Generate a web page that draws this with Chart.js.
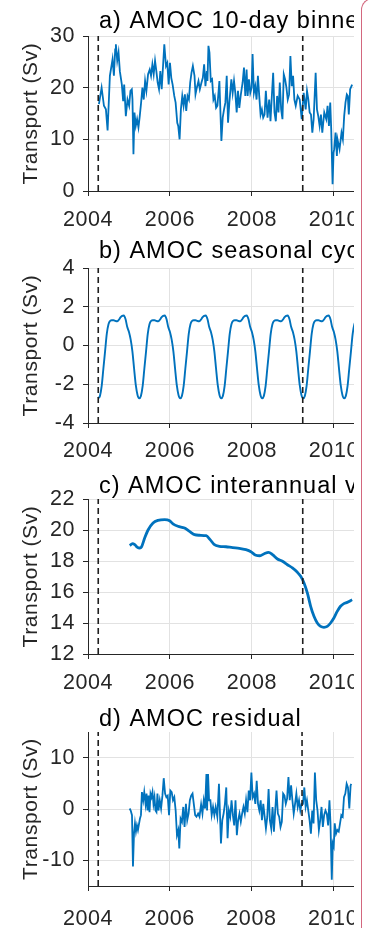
<!DOCTYPE html>
<html>
<head>
<meta charset="utf-8">
<script src="https://cdn.jsdelivr.net/npm/chart.js@4.4.1/dist/chart.umd.min.js"></script>
<style>
html,body{margin:0;padding:0;background:#fff;}
body{width:372px;height:928px;position:relative;overflow:hidden;}
canvas{position:absolute;left:0;}
#cover{position:absolute;left:354px;top:0;width:18px;height:928px;background:#fff;}
#edge{position:absolute;left:361px;top:-2px;width:40px;height:940px;border-left:1.5px solid #d3677e;border-top:1.5px solid #d3677e;border-top-left-radius:12px;box-sizing:border-box;}
</style>
</head>
<body>
<canvas id="cA" width="372" height="232" style="top:0px"></canvas>
<canvas id="cB" width="372" height="232" style="top:232px"></canvas>
<canvas id="cC" width="372" height="232" style="top:463px"></canvas>
<canvas id="cD" width="372" height="232" style="top:696px"></canvas>
<div id="cover"></div>
<div id="edge"></div>
<script>
// ---------- data ----------
const xTicks = [2004, 2006, 2008, 2010];
const eventYears = [2004.25, 2009.24];

const titleA = 'a) AMOC 10-day binned';
const titleB = 'b) AMOC seasonal cycle';
const titleC = 'c) AMOC interannual variability';
const titleD = 'd) AMOC residual';

const yTicksA = [0, 10, 20, 30];
const yTicksB = [-4, -2, 0, 2, 4];
const yTicksC = [12, 14, 16, 18, 20, 22];
const yTicksD = [-10, 0, 10];

// a) 10-day binned transport (Sv)
const yearsA = [2004.267,2004.332,2004.389,2004.437,2004.478,2004.534,2004.599,2004.632,2004.664,2004.680,2004.713,2004.745,2004.777,2004.826,2004.858,2004.883,2004.923,2004.964,2005.004,2005.036,2005.069,2005.085,2005.109,2005.134,2005.166,2005.198,2005.231,2005.263,2005.296,2005.328,2005.360,2005.393,2005.425,2005.466,2005.506,2005.538,2005.571,2005.603,2005.636,2005.668,2005.700,2005.733,2005.765,2005.798,2005.862,2005.903,2005.935,2005.968,2006.000,2006.032,2006.065,2006.105,2006.138,2006.178,2006.202,2006.235,2006.267,2006.300,2006.332,2006.364,2006.397,2006.429,2006.462,2006.494,2006.526,2006.559,2006.599,2006.623,2006.656,2006.696,2006.729,2006.769,2006.802,2006.834,2006.866,2006.899,2006.915,2006.939,2006.964,2006.996,2007.028,2007.061,2007.093,2007.126,2007.158,2007.206,2007.255,2007.287,2007.320,2007.352,2007.385,2007.417,2007.449,2007.498,2007.530,2007.563,2007.595,2007.628,2007.660,2007.692,2007.725,2007.773,2007.806,2007.838,2007.870,2007.895,2007.927,2007.960,2007.992,2008.016,2008.049,2008.081,2008.113,2008.146,2008.178,2008.211,2008.243,2008.275,2008.308,2008.340,2008.381,2008.421,2008.453,2008.486,2008.518,2008.551,2008.583,2008.615,2008.648,2008.680,2008.713,2008.745,2008.777,2008.810,2008.842,2008.874,2008.907,2008.939,2008.972,2009.004,2009.036,2009.069,2009.117,2009.166,2009.215,2009.263,2009.312,2009.344,2009.377,2009.409,2009.441,2009.474,2009.506,2009.555,2009.587,2009.619,2009.652,2009.684,2009.717,2009.765,2009.814,2009.846,2009.879,2009.911,2009.935,2009.968,2009.992,2010.008,2010.040,2010.073,2010.089,2010.138,2010.186,2010.219,2010.251,2010.283,2010.316,2010.340,2010.364,2010.397,2010.445];
const transportA = [16.8,20.0,16.5,15.8,11.7,22.3,25.5,22.3,27.4,28.4,25.2,26.8,23.2,20.6,17.4,20.6,14.5,17.7,16.5,19.4,19.7,17.7,7.1,15.2,12.6,13.9,12.3,14.5,17.1,20.0,17.7,21.3,19.4,22.6,23.5,22.3,24.5,22.6,25.2,23.2,21.0,19.7,23.2,19.7,28.4,24.2,24.8,20.6,24.8,21.9,20.6,18.4,17.1,13.2,12.6,10.0,15.8,18.4,16.5,18.7,15.5,18.4,17.7,21.0,22.9,24.2,22.3,18.7,20.0,21.3,19.7,21.0,21.9,24.5,20.3,23.2,21.3,28.1,26.8,21.3,21.6,17.7,18.4,16.1,16.5,21.3,9.7,14.2,15.8,17.1,22.3,13.2,17.1,21.6,19.0,21.3,19.0,15.2,19.4,16.1,18.4,21.0,23.9,18.4,23.5,18.4,21.6,19.0,20.0,26.5,19.0,20.3,17.7,22.3,18.4,14.8,15.8,14.2,14.8,19.4,14.2,17.7,13.5,18.4,22.9,15.2,13.5,18.4,15.2,21.0,15.8,13.9,22.6,21.6,20.0,17.7,18.7,26.1,20.3,22.3,17.7,16.5,18.4,17.7,13.9,19.0,15.8,19.4,17.7,15.2,14.8,11.3,13.9,22.9,15.8,14.5,12.6,14.8,11.3,15.2,13.9,16.5,12.6,17.1,11.9,1.3,7.4,8.1,11.3,6.8,10.0,8.1,11.3,10.0,14.5,17.1,18.7,18.4,14.8,19.7,20.6];

// b) seasonal cycle (Sv), one value per half-month of the calendar year, repeated every year
const seasonalCycle = [0.7,0.3,-0.3,-1.2,-2.05,-2.55,-2.72,-2.6,-2.1,-1.2,-0.3,0.6,1.1,1.27,1.3,1.3,1.27,1.25,1.32,1.45,1.53,1.55,1.35,0.95];
const seasonalYears = [2004, 2005, 2006, 2007, 2008, 2009, 2010];

// c) interannual variability (Sv)
const yearsC = [2005.020,2005.085,2005.142,2005.198,2005.263,2005.304,2005.385,2005.466,2005.587,2005.708,2005.870,2005.992,2006.073,2006.194,2006.356,2006.478,2006.599,2006.721,2006.883,2006.980,2007.085,2007.206,2007.368,2007.530,2007.692,2007.854,2007.976,2008.097,2008.194,2008.300,2008.405,2008.502,2008.623,2008.745,2008.866,2008.988,2009.109,2009.190,2009.271,2009.352,2009.433,2009.514,2009.595,2009.676,2009.757,2009.838,2009.919,2010.000,2010.081,2010.162,2010.243,2010.324,2010.445];
const transportC = [18.99,19.12,19.05,18.9,18.84,18.9,19.5,20.0,20.45,20.62,20.67,20.6,20.4,20.24,20.13,19.91,19.7,19.66,19.63,19.38,19.05,18.95,18.92,18.86,18.82,18.73,18.6,18.37,18.34,18.47,18.56,18.41,18.13,17.98,17.76,17.55,17.27,17.01,16.58,15.94,15.08,14.43,14.0,13.78,13.72,13.78,14.0,14.32,14.75,15.08,15.25,15.33,15.5];

// d) residual (Sv)
const yearsD = [2005.020,2005.045,2005.077,2005.101,2005.126,2005.150,2005.174,2005.198,2005.223,2005.247,2005.271,2005.296,2005.320,2005.352,2005.377,2005.409,2005.433,2005.457,2005.482,2005.506,2005.530,2005.555,2005.579,2005.603,2005.628,2005.652,2005.676,2005.700,2005.725,2005.757,2005.789,2005.822,2005.854,2005.887,2005.919,2005.951,2005.984,2006.016,2006.049,2006.081,2006.113,2006.146,2006.178,2006.211,2006.235,2006.267,2006.300,2006.332,2006.364,2006.397,2006.429,2006.462,2006.494,2006.526,2006.559,2006.599,2006.623,2006.656,2006.696,2006.729,2006.769,2006.802,2006.834,2006.866,2006.899,2006.915,2006.939,2006.964,2006.996,2007.028,2007.061,2007.093,2007.126,2007.166,2007.206,2007.255,2007.287,2007.320,2007.352,2007.385,2007.417,2007.449,2007.482,2007.514,2007.547,2007.579,2007.611,2007.644,2007.676,2007.709,2007.741,2007.773,2007.806,2007.838,2007.870,2007.903,2007.935,2007.968,2008.000,2008.032,2008.065,2008.097,2008.130,2008.162,2008.194,2008.227,2008.259,2008.291,2008.324,2008.356,2008.389,2008.421,2008.453,2008.486,2008.518,2008.551,2008.583,2008.615,2008.648,2008.680,2008.713,2008.745,2008.777,2008.810,2008.842,2008.874,2008.907,2008.939,2008.972,2009.004,2009.036,2009.069,2009.101,2009.134,2009.166,2009.198,2009.231,2009.263,2009.296,2009.328,2009.360,2009.393,2009.425,2009.457,2009.490,2009.522,2009.555,2009.587,2009.619,2009.652,2009.684,2009.717,2009.749,2009.781,2009.814,2009.846,2009.879,2009.911,2009.935,2009.968,2009.992,2010.016,2010.040,2010.073,2010.105,2010.138,2010.170,2010.202,2010.235,2010.267,2010.300,2010.332,2010.364,2010.397,2010.429,2010.445];
const transportD = [0.1,-0.3,-1.2,-11.2,-4.8,-2.8,-4.4,-3.2,-4.1,-3.0,-1.9,-1.2,3.3,1.7,3.3,1.0,3.0,-0.3,2.6,-0.6,3.0,2.3,3.3,1.0,2.3,-0.3,-0.6,3.0,-0.3,1.7,0.1,2.6,6.0,3.0,2.3,2.6,-1.2,3.6,3.3,1.7,2.3,-0.3,-5.1,-4.1,-7.7,-1.9,-2.5,0.4,-3.5,1.0,-2.2,-0.9,1.7,2.6,3.0,0.4,-1.2,-1.5,-0.9,-1.5,0.9,-0.9,1.7,0.1,6.8,-0.3,6.8,1.7,1.7,-1.2,0.4,-1.2,0.4,-1.5,4.9,-6.7,-2.2,-0.9,1.0,4.2,-5.7,-0.3,-1.5,1.7,-1.2,-3.2,1.7,-5.1,-2.2,-0.9,-2.5,-0.9,0.4,-0.9,1.7,-0.6,3.6,1.7,7.1,2.3,3.0,1.0,5.5,1.0,-0.3,1.7,-2.2,1.0,-1.5,-3.8,-1.5,3.9,-2.2,-3.8,0.4,-4.4,-0.3,3.6,-0.9,-1.5,-3.5,-2.5,3.0,2.6,1.0,2.0,6.2,1.7,4.6,1.7,-0.9,1.0,3.0,0.4,1.7,-0.3,1.0,1.0,4.2,0.4,1.7,-0.3,-2.2,-4.8,-0.3,-2.8,7.1,1.7,-0.3,-4.1,-2.2,0.4,-3.5,-1.2,-0.3,-0.9,-3.2,1.7,-2.5,-13.8,-6.7,-7.3,-2.8,-4.8,-4.1,-4.4,-2.8,-1.2,-1.5,2.3,3.0,4.9,4.2,0.1,4.6,4.9];

// ---------- build ----------
const FONT = '"Liberation Sans", Arial, Helvetica, sans-serif';
const X_MIN = 2004, X_MAX = 2010.93;
const BLUE = '#0072BD';
const AXIS = '#262626';
const GRID = '#e2e2e2';

function zip(xs, ys) { const n = Math.min(xs.length, ys.length); const out = []; for (let i = 0; i < n; i++) out.push({x: xs[i], y: ys[i]}); return out; }

const seasonalPoints = [];
seasonalYears.forEach(yr => seasonalCycle.forEach((v, k) => {
  const t = yr + k / seasonalCycle.length;
  if (t >= 2004.25 && t <= X_MAX + 0.05) seasonalPoints.push({x: t, y: v});
}));

const lsPlugin = { id: 'ls', beforeDraw(chart) { chart.ctx.letterSpacing = '0.6px'; } };
const titlePlugin = {
  id: 'panelTitle',
  afterDraw(chart, args, opts) {
    const ctx = chart.ctx;
    ctx.save();
    try { ctx.letterSpacing = '1px'; } catch (e) {}
    ctx.font = '23.5px ' + FONT;
    ctx.fillStyle = '#000';
    ctx.textAlign = 'left';
    ctx.textBaseline = 'alphabetic';
    ctx.fillText(opts.text, 99, opts.y);
    ctx.restore();
  }
};

function panel(id, p) {
  const datasets = eventYears.map(e => ({
    data: [{x: e, y: p.yMin}, {x: e, y: p.yMax}],
    borderColor: '#1e1e1e', borderWidth: 1.6, borderDash: [6, 4], pointRadius: 0, tension: 0
  }));
  datasets.push({
    data: p.points, borderColor: BLUE, borderWidth: p.lw, pointRadius: 0,
    tension: p.smooth ? 0.4 : 0, cubicInterpolationMode: p.smooth ? 'monotone' : 'default'
  });
  return new Chart(document.getElementById(id), {
    type: 'line',
    data: { datasets },
    plugins: [lsPlugin, titlePlugin],
    options: {
      responsive: false, animation: false, devicePixelRatio: 1,
      layout: { padding: { top: 36, left: 0, right: 0, bottom: 0 } },
      plugins: { legend: { display: false }, tooltip: { enabled: false }, panelTitle: { text: p.title, y: p.titleY } },
      scales: {
        x: {
          type: 'linear', min: X_MIN, max: X_MAX,
          afterBuildTicks: s => { s.ticks = xTicks.map(v => ({ value: v })); },
          afterFit: s => { s.height = p.xHeight; },
          ticks: { padding: p.labelPad, color: AXIS, font: { family: FONT, size: 21.5 }, maxRotation: 0, autoSkip: false, callback: v => String(v) },
          grid: { color: GRID, lineWidth: 1, tickLength: 5, tickColor: AXIS, tickWidth: 1 },
          border: { display: true, color: AXIS, width: 1 }
        },
        y: {
          type: 'linear', min: p.yMin, max: p.yMax,
          afterBuildTicks: s => { s.ticks = p.yTicks.map(v => ({ value: v })); },
          afterFit: s => { s.width = 88; },
          ticks: { padding: 8, color: AXIS, font: { family: FONT, size: 21.5 }, callback: v => String(v) },
          grid: { color: GRID, lineWidth: 1, tickLength: 5, tickColor: AXIS, tickWidth: 1 },
          border: { display: true, color: AXIS, width: 1 },
          title: { display: true, text: 'Transport (Sv)', color: AXIS, font: { family: FONT, size: 21, lineHeight: 1.2 }, padding: { top: 19, bottom: 0 } }
        }
      }
    }
  });
}

panel('cA', { points: zip(yearsA, transportA), yMin: 0, yMax: 30, yTicks: yTicksA, lw: 1.8, smooth: false, title: titleA, titleY: 28, xHeight: 41, labelPad: 11 });
panel('cB', { points: seasonalPoints, yMin: -4, yMax: 4, yTicks: yTicksB, lw: 1.9, smooth: true, title: titleB, titleY: 26, xHeight: 41, labelPad: 10 });
panel('cC', { points: zip(yearsC, transportC), yMin: 12, yMax: 22, yTicks: yTicksC, lw: 2.8, smooth: true, title: titleC, titleY: 30, xHeight: 41, labelPad: 11 });
panel('cD', { points: zip(yearsD, transportD), yMin: -15, yMax: 15, yTicks: yTicksD, lw: 1.8, smooth: false, title: titleD, titleY: 30, xHeight: 42, labelPad: 15 });
</script>
</body>
</html>
